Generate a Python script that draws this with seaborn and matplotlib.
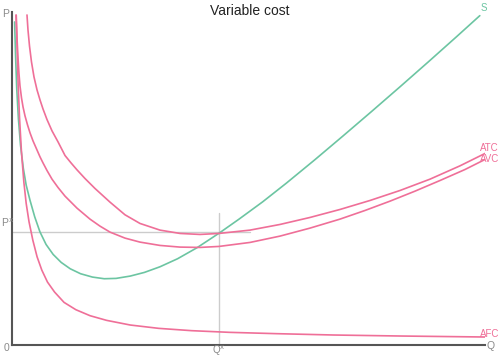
import matplotlib
matplotlib.use("Agg")
import matplotlib.pyplot as plt
import seaborn as sns
import pandas as pd

# ---- data (Q and P on 0..100 scales) ----
afc_q = [0.9, 1.1, 1.3, 1.6, 2.0, 2.5, 3.0, 3.6, 4.4, 5.3, 6.3, 7.5, 9.0, 11.0,
         13.5, 16.5, 20.0, 25.0, 31.0, 38.0, 46.0, 56.0, 68.0, 82.0, 100.0]
afc_p = [99.0, 88.0, 78.0, 68.0, 58.0, 49.0, 42.5, 37.0, 31.5, 26.5, 22.5, 18.9, 15.9, 12.8,
         10.6, 8.8, 7.4, 6.0, 5.0, 4.3, 3.8, 3.4, 3.0, 2.7, 2.4]

s_q = [0.55, 0.75, 1.0, 1.35, 1.8, 2.4, 3.0, 3.8, 4.8, 5.9, 7.2, 8.7, 10.4, 12.3,
       14.5, 17.0, 19.5, 22.0, 25.0, 28.0, 31.3, 35.0, 39.1, 43.8, 48.0, 53.0,
       58.0, 64.0, 70.0, 76.0, 82.0, 88.0, 94.0, 98.9]
s_p = [97.0, 87.0, 77.0, 68.0, 60.0, 53.0, 48.0, 43.5, 38.5, 34.0, 30.2, 27.2, 24.8, 22.9,
       21.4, 20.4, 19.9, 20.0, 20.7, 21.8, 23.5, 25.9, 29.2, 33.6, 37.8, 43.0,
       48.6, 55.6, 62.8, 70.1, 77.5, 85.0, 92.6, 98.9]

avc_q = [0.85, 1.06, 1.27, 1.48, 1.69, 2.01, 2.33, 2.75, 3.28, 3.81, 4.44, 5.18, 5.92, 6.55,
         7.40, 8.46, 9.73, 11.21, 13.74, 16.49, 18.60, 20.72, 23.89, 27.06, 31.29, 35.52,
         39.75, 43.76, 50.32, 56.66, 63.00, 69.34, 74.63, 79.92, 85.20, 90.49, 95.77, 100.4]
avc_p = [99.1, 92.2, 86.2, 81.4, 77.8, 74.2, 71.5, 68.8, 66.1, 63.7, 61.3, 58.9, 56.5, 54.7,
         52.4, 49.8, 47.3, 44.7, 41.1, 37.8, 35.7, 33.9, 32.1, 30.9, 29.9, 29.4,
         29.3, 29.6, 30.8, 32.7, 35.1, 37.8, 40.4, 43.2, 46.2, 49.4, 52.7, 56.0]

atc_q = [3.17, 3.38, 3.70, 4.12, 4.65, 5.29, 5.92, 6.55, 7.40, 8.46, 9.73, 11.21, 12.47,
         13.74, 15.43, 17.55, 20.72, 23.89, 27.06, 31.29, 35.52, 39.75, 43.76, 50.32,
         56.66, 63.00, 69.34, 75.69, 82.03, 88.37, 94.71, 100.4]
atc_p = [99.1, 94.6, 89.8, 85.0, 80.5, 76.6, 73.6, 70.9, 67.7, 64.3, 61.0, 56.9, 54.7,
         52.6, 50.0, 47.0, 42.9, 39.1, 36.5, 34.5, 33.5, 33.2, 33.5, 34.5,
         36.2, 38.3, 40.7, 43.4, 46.4, 49.8, 53.8, 57.8]

q_x = 43.8   # Q^x
p_x = 33.9   # P^x

# ---- style ----
sns.set_style("white")
plt.rcParams["font.family"] = ["Liberation Sans", "DejaVu Sans"]

pink = "#ef6f98"
green = "#6cc5a2"
axis_grey = "#555555"
text_grey = "#8a8a8a"
guide = "#cccccc"

W, H = 500, 357
fig = plt.figure(figsize=(W / 100, H / 100), dpi=100)
ax = fig.add_axes([12 / W, 12 / H, 473 / W, 333 / H])

ax.set_xlim(0, 100)
ax.set_ylim(0, 100)

# guide lines
ax.plot([0, 50.3], [p_x, p_x], color=guide, lw=1.0, zorder=1)
ax.plot([q_x, q_x], [0, 39.6], color=guide, lw=1.0, zorder=1)

curves = [
    ("S", s_q, s_p, green),
    ("ATC", atc_q, atc_p, pink),
    ("AVC", avc_q, avc_p, pink),
    ("AFC", afc_q, afc_p, pink),
]
# label placement: (offset px x, offset px y, ha)
offsets = {"S": (4, 8, "center"), "ATC": (12, 5, "right"),
           "AVC": (12, 0, "right"), "AFC": (14, 3, "right")}

for name, qs, ps, col in curves:
    df = pd.DataFrame({"Q": qs, "P": ps})
    sns.lineplot(data=df, x="Q", y="P", ax=ax, color=col, lw=1.2,
                 estimator=None, sort=False, zorder=3)
    dx, dy, ha = offsets[name]
    ax.annotate(name, xy=(qs[-1], ps[-1]), xytext=(dx, dy),
                textcoords="offset pixels", color=col, fontsize=7,
                ha=ha, va="center", annotation_clip=False)

for sp in ["top", "right"]:
    ax.spines[sp].set_visible(False)
for sp in ["left", "bottom"]:
    ax.spines[sp].set_color(axis_grey)
    ax.spines[sp].set_linewidth(1.5)
ax.set_xticks([])
ax.set_yticks([])
ax.set_xlabel("")
ax.set_ylabel("")

# axis annotations
fs = 7.5
fig.text(6 / W, 1 - 14 / H, "P", ha="center", va="center", color=text_grey, fontsize=fs)
fig.text(7 / W, 1 - 348 / H, "0", ha="center", va="center", color=text_grey, fontsize=fs)
fig.text(491 / W, 1 - 346 / H, "Q", ha="center", va="center", color=text_grey, fontsize=fs)
ax.annotate(r"P$^\mathrm{x}$", xy=(0, p_x), xytext=(-11, 9), textcoords="offset pixels",
            ha="left", va="center", color=text_grey, fontsize=fs, annotation_clip=False)
ax.annotate(r"Q$^\mathrm{x}$", xy=(q_x, 0), xytext=(0, -9), textcoords="offset pixels",
            ha="center", va="baseline", color=text_grey, fontsize=7, annotation_clip=False)

fig.text(0.5, 0.99, "Variable cost", ha="center", va="top", fontsize=10, color="#222222")

fig.savefig("out.png", dpi=100)
